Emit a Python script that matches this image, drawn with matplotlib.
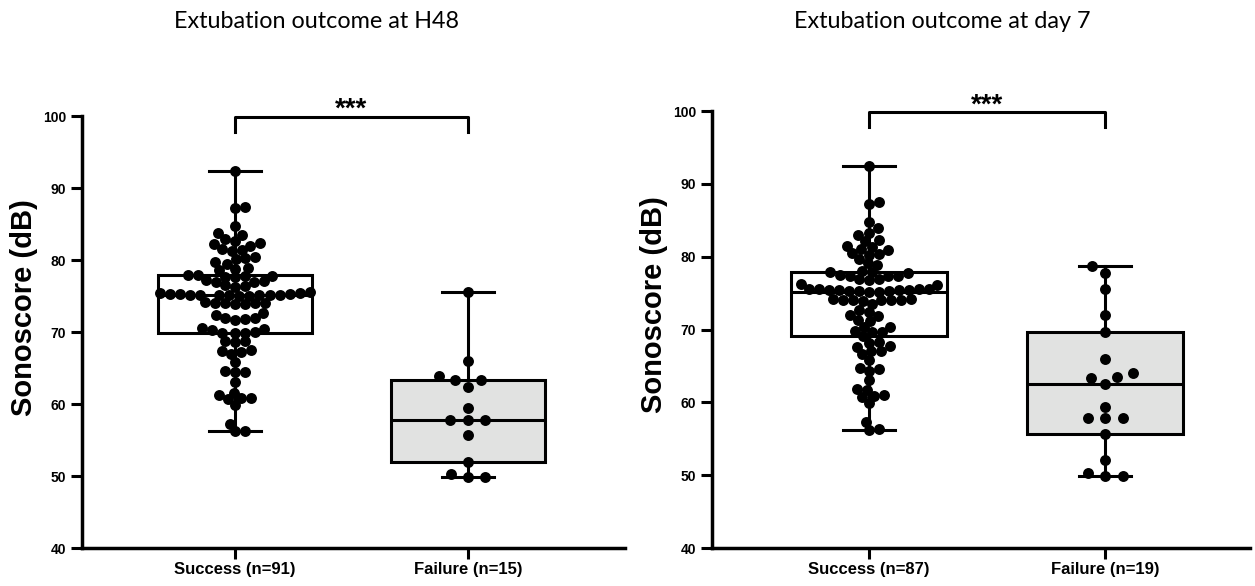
import numpy as np
import matplotlib.pyplot as plt

# values (dB)
h48_success = [92.3,
               87.2, 87.4,
               84.7,
               83.5, 83.7,
               82.9, 82.7,
               82.2, 82.0, 82.3,
               81.4, 81.2, 81.5,
               80.3, 80.1, 80.4,
               79.7, 79.5,
               78.8, 78.6, 78.9,
               77.9, 77.8, 77.7, 77.9, 77.6, 77.8,
               77.1, 76.9, 77.0, 77.2,
               76.4, 76.3, 76.5,
               75.3, 75.2, 75.1, 75.4, 75.0, 75.2, 75.3, 75.1, 75.5, 75.0, 75.2, 75.4, 75.1, 75.3, 75.2,
               73.9, 74.0, 74.1, 74.0, 74.2, 73.9, 74.1,
               72.6, 72.4,
               71.9, 71.7, 71.8, 72.0,
               70.4, 70.3, 70.5,
               69.9, 69.8, 70.0, 69.9,
               68.8, 68.6, 68.7,
               67.4, 67.2, 67.0, 67.5,
               65.9,
               64.6, 64.4, 64.5,
               63.0,
               61.6, 61.3,
               60.8, 60.7, 60.9,
               59.9,
               57.2,
               56.2, 56.2]
h48_failure = [75.6, 66.0, 63.9, 63.3, 63.3, 62.4, 59.4, 57.8, 57.8, 57.8,
               55.7, 52.0, 50.3, 49.9, 49.9]

d7_success = [92.4,
              87.3, 87.5,
              84.8,
              83.9,
              83.3,
              83.0,
              82.3, 82.2,
              81.4, 81.5,
              80.9, 81.0,
              80.4, 80.3, 80.5,
              79.7,
              79.1,
              78.9,
              77.9, 77.8, 78.0, 77.9,
              77.4, 77.3, 77.5, 77.4,
              76.9, 76.8, 77.0,
              76.1, 76.2,
              75.3, 75.5, 75.4, 75.2, 75.6, 75.4, 75.3, 75.5, 75.4, 75.2, 75.5, 75.3, 75.4,
              74.1, 74.0, 74.2, 74.1, 73.9, 74.2, 74.0, 74.1,
              73.5,
              72.7,
              72.4,
              71.9, 72.0,
              71.3, 71.2,
              70.3, 70.4,
              69.7, 69.6, 69.8,
              69.1,
              68.3, 68.2,
              67.6, 67.7,
              67.1, 67.0,
              66.6,
              65.8,
              64.7, 64.6,
              64.3,
              63.1,
              61.8, 61.7,
              60.9, 61.0,
              60.7,
              59.9,
              57.3,
              56.3, 56.2]
d7_failure = [78.7, 77.8, 75.6, 72.0, 69.6, 66.0, 64.1, 63.5, 63.3, 62.5,
              59.4, 57.9, 57.9, 57.9, 55.7, 52.1, 50.3, 49.9, 49.9]

h48_labels = ['Success (n=91)', 'Failure (n=15)']
d7_labels = ['Success (n=87)', 'Failure (n=19)']
titles = ['Extubation outcome at H48', 'Extubation outcome at day 7']
box_colors = ['white', '#e1e2e1']

plt.rcParams['font.family'] = ['Liberation Sans', 'DejaVu Sans']


def swarm(vals, ax, dx_px, dy_px):
    # beeswarm in pixel space (elliptic spacing), returns x offsets in data units
    bb = ax.get_window_extent()
    x0, x1 = ax.get_xlim()
    y0, y1 = ax.get_ylim()
    sx = bb.width / (x1 - x0)
    sy = bb.height / (y1 - y0)
    ys = np.asarray(vals) * sy / dy_px
    xs = np.zeros(len(ys))
    placed = []
    for i in np.argsort(ys, kind='stable'):
        y = ys[i]
        cands = [0.0]
        for px, py in placed:
            d = abs(py - y)
            if d < 1:
                w = np.sqrt(1 - d * d)
                cands += [px - w, px + w]
        cands.sort(key=lambda c: (round(abs(c), 6), -c if len(placed) % 2 else c))
        for c in cands:
            if all((c - px) ** 2 + (y - py) ** 2 >= 1 - 1e-6 for px, py in placed):
                xs[i] = c
                break
        placed.append((xs[i], y))
    return xs * dx_px / sx


def box_stats(v):
    q1, med, q3 = np.percentile(v, [25, 50, 75], method='weibull')
    return dict(med=med, q1=q1, q3=q3, whislo=min(v), whishi=max(v), fliers=[])


fig = plt.figure(figsize=(12.55, 5.86), dpi=100)
ax1 = fig.add_axes([0.0653, 0.0648, 0.4327, 0.7372])
ax2 = fig.add_axes([0.5673, 0.0648, 0.4287, 0.7457])

panels = [(ax1, [h48_success, h48_failure], h48_labels, (-0.657, 1.674)),
          (ax2, [d7_success, d7_failure], d7_labels, (-0.665, 1.614))]

for ax, data, labels, xlim in panels:
    ax.set_xlim(*xlim)
    ax.set_ylim(40, 100)
    res = ax.bxp([box_stats(v) for v in data], positions=[0, 1], widths=0.657,
                 capwidths=0.22, patch_artist=True, showfliers=False,
                 boxprops=dict(edgecolor='black', linewidth=2.2),
                 whiskerprops=dict(color='black', linewidth=2.2),
                 capprops=dict(color='black', linewidth=2.2),
                 medianprops=dict(color='black', linewidth=2.2))
    for patch, c in zip(res['boxes'], box_colors):
        patch.set_facecolor(c)
    for k, v in enumerate(data):
        if len(v) > 50:
            off = swarm(v, ax, 10, 8.5)
        else:
            off = swarm(v, ax, 17.5, 10)
        ax.scatter(k + off, v, s=62, color='black', zorder=5, linewidths=0)

    ax.plot([0, 0, 1, 1], [97.8, 99.85, 99.85, 97.8], color='black', lw=2.2, clip_on=False)
    ax.text(0.5, 99.85, '***', ha='center', va='baseline', fontsize=20, fontweight='bold')

    ax.set_xticks([0, 1])
    ax.set_xticklabels(labels, fontsize=12, fontweight='bold')
    ax.set_yticks(range(40, 101, 10))
    for t in ax.get_yticklabels():
        t.set_fontweight('bold')
        t.set_fontsize(10)
    ax.set_ylabel('Sonoscore (dB)', fontsize=21, fontweight='bold')
    ax.yaxis.set_label_coords(-58 / (ax.get_window_extent().width), 0.557)
    ax.yaxis.label.set_va('center')
    ax.tick_params(length=8, width=2.2, direction='out')
    ax.tick_params(axis='x', pad=2)
    for s in ['top', 'right']:
        ax.spines[s].set_visible(False)
    for s in ['left', 'bottom']:
        ax.spines[s].set_linewidth(2.5)

fig.text(317 / 1255, 1 - 21 / 586, titles[0], ha='center', va='center', fontsize=16.8, family='Lato')
fig.text(942 / 1255, 1 - 21 / 586, titles[1], ha='center', va='center', fontsize=16.8, family='Lato')

fig.savefig('out.png', dpi=100)
